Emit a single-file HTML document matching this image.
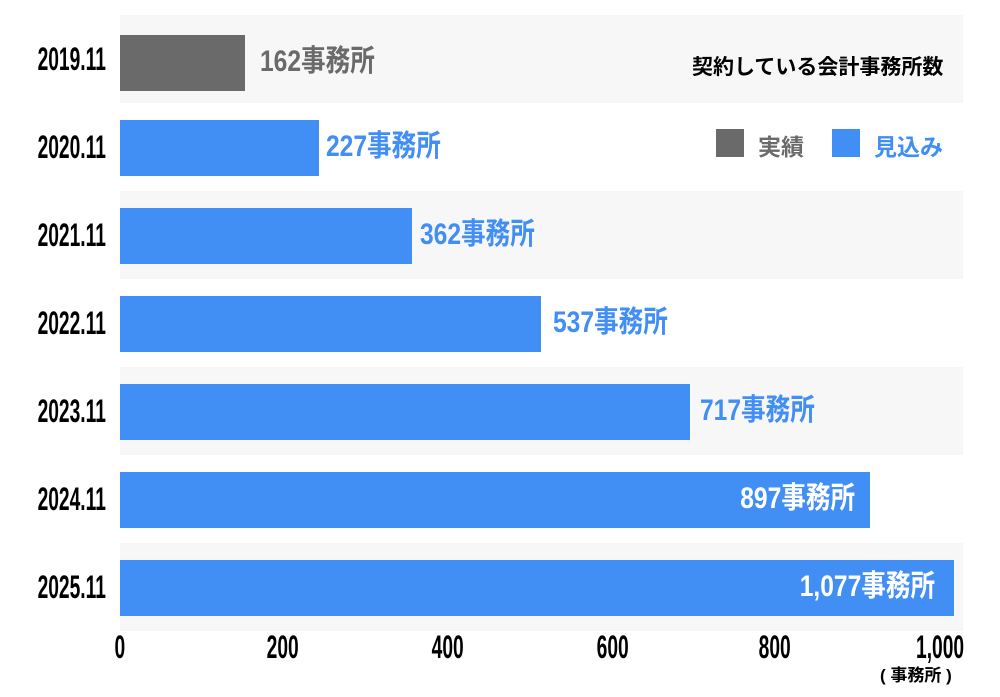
<!DOCTYPE html>
<html><head><meta charset="utf-8"><style>
body{margin:0;width:1000px;height:697px;background:#fff;position:relative;overflow:hidden;font-family:"Liberation Sans","Noto Sans CJK JP",sans-serif}
.r{position:absolute;left:120px;width:843px;height:88px}
.g{background:#f7f7f7}
.b{position:absolute;left:120px;height:56px}
.y{position:absolute;left:-100px;width:206px;text-align:right;font-weight:bold;font-size:32px;color:#000;line-height:32px;white-space:nowrap}
.y span,.t span,.l span{display:inline-block;transform:scaleX(0.6);transform-origin:right center}
.l{position:absolute;font-weight:bold;font-size:30px;white-space:nowrap;line-height:32px}
.l span{transform:scaleX(0.82);transform-origin:left center}
.l.rt{text-align:right}
.l.rt span{transform-origin:right center}
.t{position:absolute;top:631px;font-weight:bold;font-size:32px;width:80px;text-align:center;line-height:32px}
.t span{transform:scaleX(0.6);transform-origin:center}
</style></head><body>
<div class="r g" style="top:15px"></div>
<div class="r" style="top:103px"></div>
<div class="r g" style="top:191px"></div>
<div class="r" style="top:279px"></div>
<div class="r g" style="top:367px"></div>
<div class="r" style="top:455px"></div>
<div class="r g" style="top:543px"></div>

<div class="b" style="top:35px;width:125px;background:#6a6a6a"></div>
<div class="b" style="top:120px;width:199px;background:#418ef4"></div>
<div class="b" style="top:208px;width:292px;background:#418ef4"></div>
<div class="b" style="top:296px;width:421px;background:#418ef4"></div>
<div class="b" style="top:384px;width:570px;background:#418ef4"></div>
<div class="b" style="top:472px;width:750px;background:#418ef4"></div>
<div class="b" style="top:560px;width:834px;background:#418ef4"></div>

<div class="y" style="top:43px"><span>2019.11</span></div>
<div class="y" style="top:131px"><span>2020.11</span></div>
<div class="y" style="top:219px"><span>2021.11</span></div>
<div class="y" style="top:307px"><span>2022.11</span></div>
<div class="y" style="top:395px"><span>2023.11</span></div>
<div class="y" style="top:483px"><span>2024.11</span></div>
<div class="y" style="top:571px"><span>2025.11</span></div>

<div class="l" style="left:260px;top:46px;color:#6a6a6a"><span>162事務所</span></div>
<div class="l" style="left:326px;top:131px;color:#418ef4"><span>227事務所</span></div>
<div class="l" style="left:420px;top:219px;color:#418ef4"><span>362事務所</span></div>
<div class="l" style="left:553px;top:307px;color:#418ef4"><span>537事務所</span></div>
<div class="l" style="left:700px;top:395px;color:#418ef4"><span>717事務所</span></div>
<div class="l rt" style="right:145px;top:483px;color:#fff"><span>897事務所</span></div>
<div class="l rt" style="right:65px;top:571px;color:#fff"><span>1,077事務所</span></div>

<div style="position:absolute;left:692px;top:51px;font-size:21px;font-weight:bold;color:#000;white-space:nowrap">契約している会計事務所数</div>
<div style="position:absolute;left:716px;top:129px;width:28px;height:28px;background:#6a6a6a"></div>
<div style="position:absolute;left:758px;top:128px;font-size:23px;font-weight:bold;color:#6a6a6a">実績</div>
<div style="position:absolute;left:832px;top:129px;width:28px;height:28px;background:#418ef4"></div>
<div style="position:absolute;left:874px;top:128px;font-size:23px;font-weight:bold;color:#418ef4">見込み</div>

<div class="t" style="left:80px"><span>0</span></div>
<div class="t" style="left:243px"><span>200</span></div>
<div class="t" style="left:408px"><span>400</span></div>
<div class="t" style="left:573px"><span>600</span></div>
<div class="t" style="left:735px"><span>800</span></div>
<div class="t" style="left:900px"><span>1,000</span></div>
<div style="position:absolute;left:880px;top:661px;font-size:17px;font-weight:bold;white-space:nowrap">(&nbsp;事務所&nbsp;)</div>
</body></html>
